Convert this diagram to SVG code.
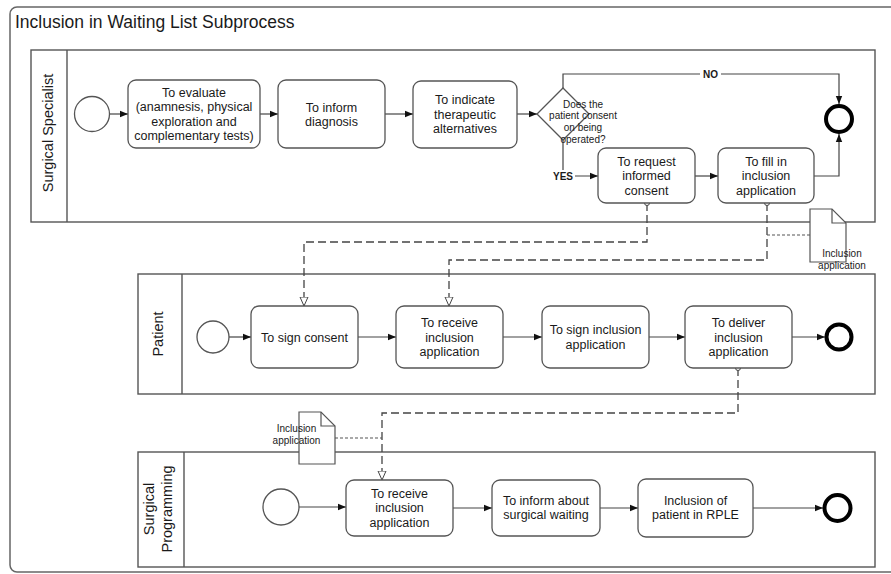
<svg xmlns="http://www.w3.org/2000/svg" width="891" height="574" viewBox="0 0 891 574">
<style>
text{font-family:"Liberation Sans",Arial,sans-serif;fill:#1a1a1a}
.pool{fill:none;stroke:#555;stroke-width:1.4}
.task{fill:#fff;stroke:#555;stroke-width:1.3}
.tt{font-size:12.5px;text-anchor:middle}
.pl{font-size:14.5px;text-anchor:middle}
.start{fill:#fff;stroke:#555;stroke-width:1.3}
.end{fill:#fff;stroke:#000;stroke-width:4}
.seq{fill:none;stroke:#444;stroke-width:1.2;marker-end:url(#arr)}
.msg{fill:none;stroke:#444;stroke-width:1.3;stroke-dasharray:8 4;marker-start:url(#mstart);marker-end:url(#mend)}
.assoc{fill:none;stroke:#555;stroke-width:1.2;stroke-dasharray:3 2}
.doc{fill:#fff;stroke:#555;stroke-width:1.2}
.dl{font-size:10px;text-anchor:middle}
.gl{font-size:10px;text-anchor:middle}
.bl{font-size:10px;font-weight:bold;text-anchor:middle}
</style>
<defs>
<marker id="arr" viewBox="0 0 8 8" refX="8" refY="4" markerWidth="8" markerHeight="8" markerUnits="userSpaceOnUse" orient="auto">
<path d="M0,0.8 L8,4 L0,7.2 z" fill="#111"/>
</marker>
<marker id="mend" viewBox="0 0 10 10" refX="9.5" refY="5" markerWidth="10" markerHeight="10" markerUnits="userSpaceOnUse" orient="auto">
<path d="M0.5,1 L9.5,5 L0.5,9 z" fill="#fff" stroke="#444" stroke-width="1"/>
</marker>
<marker id="mstart" viewBox="0 0 7 7" refX="3.5" refY="3.5" markerWidth="7" markerHeight="7" markerUnits="userSpaceOnUse" orient="auto">
<circle cx="3.5" cy="3.5" r="2.5" fill="#fff" stroke="#444" stroke-width="1"/>
</marker>
</defs>
<rect x="0" y="0" width="891" height="574" fill="#fff"/>
<rect x="10" y="7" width="900" height="565" rx="7" fill="none" stroke="#666" stroke-width="1.5"/>
<text x="15" y="28" style="font-size:17.5px">Inclusion in Waiting List Subprocess</text>

<g id="pool-surgical-specialist">
<rect class="pool" x="31" y="50" width="844" height="172"/>
<line x1="67" y1="50" x2="67" y2="222" stroke="#555" stroke-width="1.4"/>
<text class="pl" transform="translate(53,133) rotate(-90)">Surgical Specialist</text>
</g>
<g id="pool-patient">
<rect class="pool" x="138" y="274" width="737" height="120"/>
<line x1="182" y1="274" x2="182" y2="394" stroke="#555" stroke-width="1.4"/>
<text class="pl" transform="translate(163,334) rotate(-90)">Patient</text>
</g>
<g id="pool-surgical-programming">
<rect class="pool" x="138" y="452" width="737" height="115"/>
<line x1="184" y1="452" x2="184" y2="567" stroke="#555" stroke-width="1.4"/>
<text class="pl" transform="translate(154,509) rotate(-90)">Surgical</text>
<text class="pl" transform="translate(172,509) rotate(-90)">Programming</text>
</g>

<g id="connectors">
<path class="seq" d="M110,114 L128,114"/>
<path class="seq" d="M260,114 L278,114"/>
<path class="seq" d="M385,114 L413,114"/>
<path class="seq" d="M517,114 L537,114"/>
<path class="seq" d="M563,88 L563,74 L839,74 L839,104"/>
<path class="seq" d="M563,140 L563,176 L598,176"/>
<path class="seq" d="M695,176 L718,176"/>
<path class="seq" d="M814,176 L839,176 L839,134"/>
<path class="seq" d="M229,337 L251,337"/>
<path class="seq" d="M358,337 L396,337"/>
<path class="seq" d="M503,337 L542,337"/>
<path class="seq" d="M649,337 L685,337"/>
<path class="seq" d="M792,337 L825,337"/>
<path class="seq" d="M299,507 L346,507"/>
<path class="seq" d="M453,508 L492,508"/>
<path class="seq" d="M600,508 L638,508"/>
<path class="seq" d="M753,508 L823,508"/>
<path class="msg" d="M647,203 L647,242 L304,242 L304,306"/>
<path class="msg" d="M767,203 L767,260 L449,260 L449,306"/>
<path class="msg" d="M738,368 L738,413 L382,413 L382,480"/>
<path class="assoc" d="M767,235 L810,235"/>
<path class="assoc" d="M335,438 L382,438"/>
<rect x="700" y="68" width="21" height="12" fill="#fff"/>
<text class="bl" x="710.5" y="77.6">NO</text>
<rect x="551" y="170" width="24" height="12" fill="#fff"/>
<text class="bl" x="563" y="179.6">YES</text>
</g>

<g id="start-1"><circle class="start" cx="92" cy="114" r="17.5"/></g>
<g id="task-evaluate">
<rect class="task" x="128" y="80" width="132" height="68" rx="8"/>
<text class="tt" x="194" y="96.5">To evaluate</text>
<text class="tt" x="194" y="111">(anamnesis, physical</text>
<text class="tt" x="194" y="125.5">exploration and</text>
<text class="tt" x="194" y="140">complementary tests)</text>
</g>
<g id="task-inform-diagnosis">
<rect class="task" x="278" y="80" width="107" height="68" rx="8"/>
<text class="tt" x="331.5" y="111.5">To inform</text>
<text class="tt" x="331.5" y="126">diagnosis</text>
</g>
<g id="task-indicate">
<rect class="task" x="413" y="81" width="104" height="67" rx="8"/>
<text class="tt" x="465" y="104">To indicate</text>
<text class="tt" x="465" y="118.5">therapeutic</text>
<text class="tt" x="465" y="133">alternatives</text>
</g>
<g id="gateway-consent">
<path d="M563,88 L589,114 L563,140 L537,114 z" fill="#fff" stroke="#555" stroke-width="1.3"/>
<text class="gl" x="583" y="107.6">Does the</text>
<text class="gl" x="583" y="119.3">patient consent</text>
<text class="gl" x="583" y="131">on being</text>
<text class="gl" x="583" y="142.6">operated?</text>
</g>
<g id="end-1"><circle class="end" cx="839" cy="119" r="13"/></g>
<g id="task-request-consent">
<rect class="task" x="598" y="148" width="97" height="55" rx="8"/>
<text class="tt" x="646.5" y="165.5">To request</text>
<text class="tt" x="646.5" y="180">informed</text>
<text class="tt" x="646.5" y="194.5">consent</text>
</g>
<g id="task-fill-application">
<rect class="task" x="718" y="148" width="96" height="55" rx="8"/>
<text class="tt" x="766" y="165.5">To fill in</text>
<text class="tt" x="766" y="180">inclusion</text>
<text class="tt" x="766" y="194.5">application</text>
</g>
<g id="data-1">
<path class="doc" d="M810,209 L832,209 L846,223 L846,262 L810,262 z"/>
<path d="M832,209 L832,223 L846,223" fill="none" stroke="#555" stroke-width="1.2"/>
<text class="dl" x="842" y="256.5">Inclusion</text>
<text class="dl" x="842" y="268.5">application</text>
</g>

<g id="start-2"><circle class="start" cx="213" cy="337" r="16"/></g>
<g id="task-sign-consent">
<rect class="task" x="251" y="306" width="107" height="62" rx="8"/>
<text class="tt" x="304.5" y="341.5">To sign consent</text>
</g>
<g id="task-receive-application-p">
<rect class="task" x="396" y="306" width="107" height="62" rx="8"/>
<text class="tt" x="449.5" y="327">To receive</text>
<text class="tt" x="449.5" y="341.5">inclusion</text>
<text class="tt" x="449.5" y="356">application</text>
</g>
<g id="task-sign-application">
<rect class="task" x="542" y="306" width="107" height="62" rx="8"/>
<text class="tt" x="595.5" y="334">To sign inclusion</text>
<text class="tt" x="595.5" y="348.5">application</text>
</g>
<g id="task-deliver-application">
<rect class="task" x="685" y="306" width="107" height="62" rx="8"/>
<text class="tt" x="738.5" y="327">To deliver</text>
<text class="tt" x="738.5" y="341.5">inclusion</text>
<text class="tt" x="738.5" y="356">application</text>
</g>
<g id="end-2"><circle class="end" cx="839" cy="337" r="12.5"/></g>

<g id="data-2">
<path class="doc" d="M299,412 L321,412 L335,426 L335,464 L299,464 z"/>
<path d="M321,412 L321,426 L335,426" fill="none" stroke="#555" stroke-width="1.2"/>
<text class="dl" x="296.5" y="431.5">Inclusion</text>
<text class="dl" x="296.5" y="443.5">application</text>
</g>
<g id="start-3"><circle class="start" cx="281" cy="507" r="18"/></g>
<g id="task-receive-application-s">
<rect class="task" x="346" y="480" width="107" height="56" rx="8"/>
<text class="tt" x="399.5" y="497.5">To receive</text>
<text class="tt" x="399.5" y="512">inclusion</text>
<text class="tt" x="399.5" y="526.5">application</text>
</g>
<g id="task-inform-waiting">
<rect class="task" x="492" y="480" width="108" height="56" rx="8"/>
<text class="tt" x="546" y="504.5">To inform about</text>
<text class="tt" x="546" y="519">surgical waiting</text>
</g>
<g id="task-inclusion-rple">
<rect class="task" x="638" y="479" width="115" height="58" rx="8"/>
<text class="tt" x="695.5" y="504.5">Inclusion of</text>
<text class="tt" x="695.5" y="519">patient in RPLE</text>
</g>
<g id="end-3"><circle class="end" cx="837.5" cy="508" r="13"/></g>
</svg>
